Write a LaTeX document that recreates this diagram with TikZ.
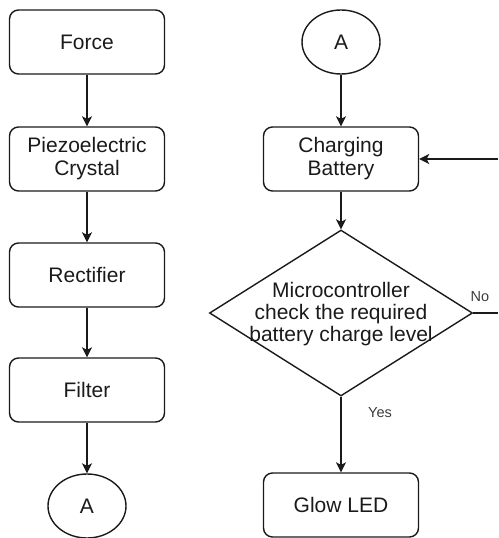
\documentclass[tikz,border=0pt]{standalone}
\usepackage{fontspec}
\setmainfont{Liberation Sans}
\usetikzlibrary{arrows.meta,shapes.geometric}
\definecolor{ink}{HTML}{1A1A1A}
\tikzset{
  every picture/.style={x=1pt,y=-1pt},
  box/.style={draw=ink,line width=1.4pt,rounded corners=9pt,minimum width=155pt,minimum height=64pt,inner sep=0pt,align=center,font=\fontsize{21}{23}\selectfont,text=ink},
  conn/.style={draw=ink,line width=1.4pt,ellipse,minimum width=78pt,minimum height=64pt,inner sep=0pt,font=\fontsize{21}{23}\selectfont,text=ink},
  dec/.style={draw=ink,line width=1.4pt,diamond,minimum width=263pt,minimum height=166pt,inner sep=0pt},
  dtext/.style={align=center,font=\fontsize{21}{22}\selectfont,text=ink},
  lbl/.style={font=\fontsize{14.5}{16}\selectfont,text=ink!85},
  arr/.style={draw=ink,line width=1.4pt,-{Stealth[length=10pt,width=10pt,inset=2.5pt]}},
  ln/.style={draw=ink,line width=1.4pt}
}
\begin{document}
\begin{tikzpicture}
\useasboundingbox (0,0) rectangle (498,538);
\node[box] (force) at (87,42) {Force};
\node[box] (piezo) at (87,159) {Piezoelectric\\Crystal};
\node[box] (rect) at (87,275) {Rectifier};
\node[box] (filt) at (87,390) {Filter};
\node[conn] (a1) at (87,506) {A};
\node[conn] (a2) at (341,42) {A};
\node[box] (charge) at (341,159) {Charging\\Battery};
\node[dec] (dec) at (341,313) {};
\node[dtext] (dt) at (341,314) {Microcontroller\\check the required\\battery charge level};
\node[box] (glow) at (341,505) {Glow LED};
\coordinate (nout) at (498,313);
\coordinate (nin) at (498,159);
\draw[arr] (force) -- (piezo);
\draw[arr] (piezo) -- (rect);
\draw[arr] (rect) -- (filt);
\draw[arr] (filt) -- (a1);
\draw[arr] (a2) -- (charge);
\draw[arr] (charge) -- (dec.north);
\draw[arr] (dec.south) -- (glow);
\draw[ln] (dec.east) -- (nout);
\draw[arr] (nin) -- (charge.east);
\node[lbl] (no) at (480,297) {No};
\node[lbl] (yes) at (380,413) {Yes};
\end{tikzpicture}
\end{document}
